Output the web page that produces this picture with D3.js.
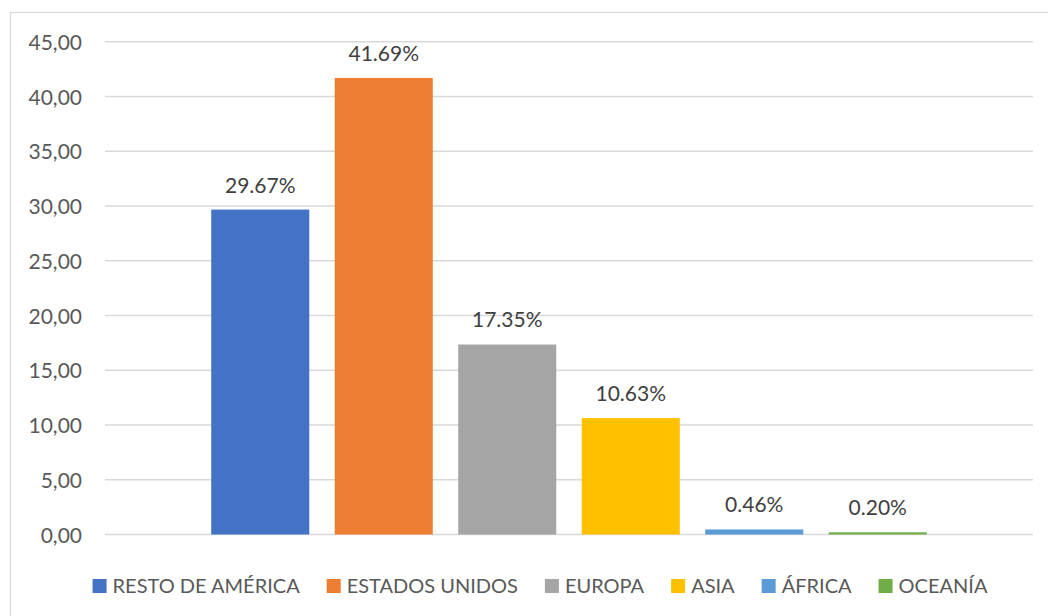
<!DOCTYPE html>
<html>
<head>
<meta charset="utf-8">
<script src="https://cdn.jsdelivr.net/npm/d3@7"></script>
<style>
  html, body { margin: 0; padding: 0; background: #fff; }
  svg { display: block; font-family: Lato, "Open Sans", sans-serif; }
</style>
</head>
<body>
<svg id="chart" width="1048" height="616"></svg>
<script>
const seriesNames = ["RESTO DE AMÉRICA", "ESTADOS UNIDOS", "EUROPA", "ASIA", "ÁFRICA", "OCEANÍA"];
const seriesValues = [29.67, 41.69, 17.35, 10.63, 0.46, 0.20];
const seriesLabels = ["29.67%", "41.69%", "17.35%", "10.63%", "0.46%", "0.20%"];
const seriesColors = ["#4472C4", "#ED7D31", "#A5A5A5", "#FFC000", "#5B9BD5", "#70AD47"];
const yTicks = [0, 5, 10, 15, 20, 25, 30, 35, 40, 45];
const yTickLabels = ["0,00", "5,00", "10,00", "15,00", "20,00", "25,00", "30,00", "35,00", "40,00", "45,00"];

const svg = d3.select("#chart");
const W = 1048, H = 616;

// chart border
svg.append("rect")
  .attr("x", 10.5).attr("y", 12.5)
  .attr("width", W).attr("height", H)
  .attr("fill", "#fff").attr("stroke", "#d9d9d9").attr("stroke-width", 1.2);

const plot = { left: 105, right: 1033, top: 41.7, bottom: 534.5 };

const y = d3.scaleLinear().domain([0, 45]).range([plot.bottom, plot.top]);
const x = d3.scaleBand().domain(seriesNames)
  .range([plot.left, plot.right])
  .paddingInner(0.206).paddingOuter(0.86);

// gridlines
svg.append("g").selectAll("line").data(yTicks).join("line")
  .attr("x1", plot.left).attr("x2", plot.right)
  .attr("y1", d => y(d)).attr("y2", d => y(d))
  .attr("stroke", "#d9d9d9").attr("stroke-width", 1.5);

// y axis labels
const yAxis = d3.axisLeft(y).tickValues(yTicks)
  .tickFormat((d, i) => yTickLabels[i]).tickSize(0).tickPadding(0);
const gy = svg.append("g").attr("transform", `translate(82,0)`).call(yAxis);
gy.select(".domain").remove();
gy.selectAll("text")
  .attr("fill", "#595959").style("font-size", "21px")
  .style("font-family", "Lato, 'Open Sans', sans-serif")
  .attr("dy", "0.36em");

// bars
const data = seriesNames.map((n, i) => ({ name: n, value: seriesValues[i], label: seriesLabels[i], color: seriesColors[i] }));
svg.append("g").selectAll("rect").data(data).join("rect")
  .attr("x", d => x(d.name))
  .attr("width", x.bandwidth())
  .attr("y", d => y(d.value))
  .attr("height", d => y(0) - y(d.value))
  .attr("fill", d => d.color);

// data labels
svg.append("g").selectAll("text").data(data).join("text")
  .attr("x", d => x(d.name) + x.bandwidth() / 2)
  .attr("y", d => y(d.value) - 17)
  .attr("text-anchor", "middle")
  .attr("fill", "#404040")
  .style("font-size", "21px")
  .text(d => d.label);

// legend
const legend = svg.append("g");
const items = legend.selectAll("g").data(data).join("g");
items.append("rect").attr("width", 14).attr("height", 14).attr("y", 579).attr("fill", d => d.color);
items.append("text").attr("x", 20).attr("y", 593)
  .attr("fill", "#595959").style("font-size", "20px")
  .text(d => d.name);
let widths = [];
items.each(function () { widths.push(20 + this.querySelector("text").getComputedTextLength()); });
const gap = 27;
const total = d3.sum(widths) + gap * (widths.length - 1);
let cx = 540 - total / 2;
items.attr("transform", (d, i) => {
  const t = `translate(${cx},0)`;
  cx += widths[i] + gap;
  return t;
});
</script>
</body>
</html>
